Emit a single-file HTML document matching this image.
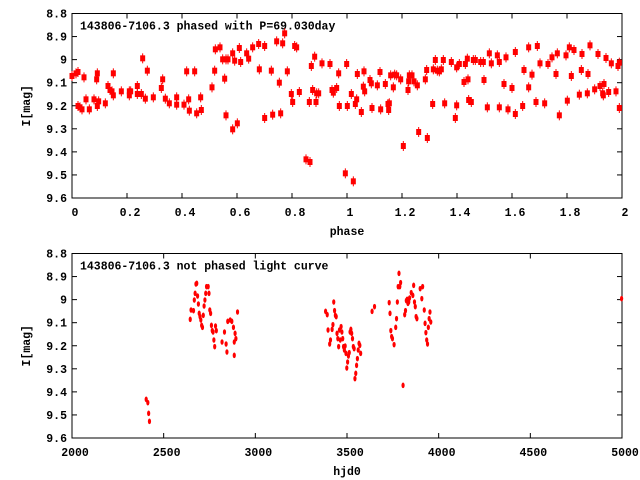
<!DOCTYPE html>
<html><head><meta charset="utf-8"><style>
body{margin:0;background:#fff;}
svg{display:block;font-family:"Liberation Mono",monospace;font-weight:bold;font-size:11.5px;}
</style></head><body>
<svg id="s" width="640" height="480" xmlns="http://www.w3.org/2000/svg">
<rect width="640" height="480" fill="#fff"/>
<g id="g"></g>
</svg>
<script>
var NS="http://www.w3.org/2000/svg",G=document.getElementById('g');
function el(t,a,txt){var e=document.createElementNS(NS,t);for(var k in a)e.setAttribute(k,a[k]);if(txt!==undefined)e.textContent=txt;G.appendChild(e);return e;}
var L=72,R=622;
function panel(off,xt,xl,title){
 var T=13.5+off,B=198+off;
 for(var i=0;i<=8;i++){var y=T+i*(B-T)/8;
  el('line',{x1:L,y1:y,x2:L+5,y2:y,stroke:'#000'});el('line',{x1:R,y1:y,x2:R-5,y2:y,stroke:'#000'});
  el('text',{x:67,y:y+4,'text-anchor':'end'},(8.8+i*0.1).toFixed(1).replace(/\.0$/,''));}
 for(var j=0;j<xt.length;j++){var x=L+j*(R-L)/(xt.length-1);
  el('line',{x1:x,y1:B,x2:x,y2:B-5,stroke:'#000'});el('line',{x1:x,y1:T,x2:x,y2:T+5,stroke:'#000'});
  el('text',{x:x+3,y:B+18,'text-anchor':'middle'},xt[j]);}
 el('rect',{x:L,y:T,width:R-L,height:B-T,fill:'none',stroke:'#000'});
 el('text',{x:80,y:T+16},title);
 el('text',{x:347,y:B+37,'text-anchor':'middle'},xl);
 el('text',{x:0,y:0,'text-anchor':'middle',transform:'translate(30,'+(T+(B-T)/2)+') rotate(-90)'},'I[mag]');
}
panel(0,['0','0.2','0.4','0.6','0.8','1','1.2','1.4','1.6','1.8','2'],'phase','143806-7106.3 phased with P=69.030day');
panel(240,['2000','2500','3000','3500','4000','4500','5000'],'hjd0','143806-7106.3 not phased light curve');
var z1=[216,228,228,220,234,216,234,318,240,322,246,328,252,232,258,298,268,328,282,298,290,238,292,318,292,220,296,304,316,310,324,258,330,270,336,274,340,286,340,220,364,274,388,286,388,274,392,274,412,258,412,282,424,282,428,175,436,296,442,212,460,292,484,264,488,238,496,296,508,310,530,292,530,314,552,314,560,214,566,298,568,332,584,214,590,340,602,292,604,330,636,262,644,212,646,148,660,142,668,178,674,236,678,178,678,346,684,178,698,160,698,388,704,182,712,370,718,144,722,186,740,160,746,176,758,142,776,132,778,208,794,138,794,354,814,212,818,344,830,124,838,248,842,340,848,130,854,100,862,214,874,282,878,306,884,138,890,142,898,276,918,478,930,486,928,306,934,198,938,270,944,170,948,306,950,280,956,280];
var z2=[6,190,30,192,36,270,40,278,50,264,56,220,58,318,76,520,80,192,82,318,94,282,100,544,106,312,110,298,112,222,124,336,130,260,132,214,134,274,150,240,154,250,156,324,172,256,180,216,182,328,196,252,204,312,206,330,208,310,212,226,220,262,224,224,230,226,242,238,250,438,264,270,266,244,268,226,276,226,282,244,292,256,296,396,316,238,320,210,322,414,338,312,340,208,346,180,352,212,358,214,364,208,370,180,374,310,394,186,406,354,410,202,410,316,418,192,432,246,436,192,442,176,444,238,446,300,454,306,460,180,466,180,482,186,490,186,492,240,502,322,508,160,514,190,532,166,538,322,538,186,552,252,558,172,564,328,576,264,586,156,586,342,608,318,612,210,626,142,626,262,636,224,648,306,652,138,660,190,674,310,684,192,696,172,708,222,712,160,718,346,738,166,742,302,748,142,754,228,762,150,778,284,784,210,786,162,802,280,804,222,810,136,824,268,834,162,840,258,848,280,850,286,852,252,858,174,866,276,874,190,888,274,894,198,898,188,898,324];
function sq(x,y){el('line',{x1:x,y1:y-5,x2:x,y2:y+5,stroke:'#f00'});el('rect',{x:x-2.5,y:y-3,width:5,height:6,fill:'#f00'});}
for(var i=0;i<z1.length;i+=2)sq(z1[i]/3,z1[i+1]/3);
for(var i=0;i<z2.length;i+=2)sq(320+z2[i]/3,z2[i+1]/3);
var z3=[358,478,362,488,364,520,366,544,466,238,468,210,474,212,476,180,478,160,480,132,482,130,484,168,486,192,488,220,490,230,492,240,494,256,496,262,498,226,500,198,502,180,504,160,506,140,510,140,512,160,514,210,516,220,518,256,520,272,522,276,524,300,526,320,528,258,530,272,544,306,550,276,554,312,556,336,558,244,564,240,568,244,572,262,574,306,576,280,578,296,582,216,574,346,798,214,802,224,804,270,808,312,810,300,814,268,816,254,818,186,820,212,822,226,824,230,826,280,828,296,830,320,832,270,834,300,836,260,838,276,840,296,842,320,844,330,846,318,848,340,850,384,852,366,854,348,856,338,858,276,860,268,862,280,864,296,866,320,868,326,870,416,872,400,874,376,876,356,878,330,880,310,882,316,884,340,912,214,918,200,954,188,956,220,958,272,960,290,962,296,966,314,970,262,972,236,974,186,976,140,978,100,980,140,982,128,988,436,992,224,994,212,996,182,998,178,1000,190,1002,186,1004,174,1008,158,1012,166,1014,136,1016,186,1018,200,1020,230,1022,236,1030,146,1034,176,1036,140,1040,210,1042,250,1044,278,1046,300,1048,312,1050,262,1052,236,1054,216,1056,246,1524,176];
for(var i=0;i<z3.length;i+=2){var x=72+(z3[i]-176)*550/1349,y=240+z3[i+1]/3;el('ellipse',{cx:x,cy:y,rx:1.6,ry:2.8,fill:'#f00'});}
</script>
</body></html>
